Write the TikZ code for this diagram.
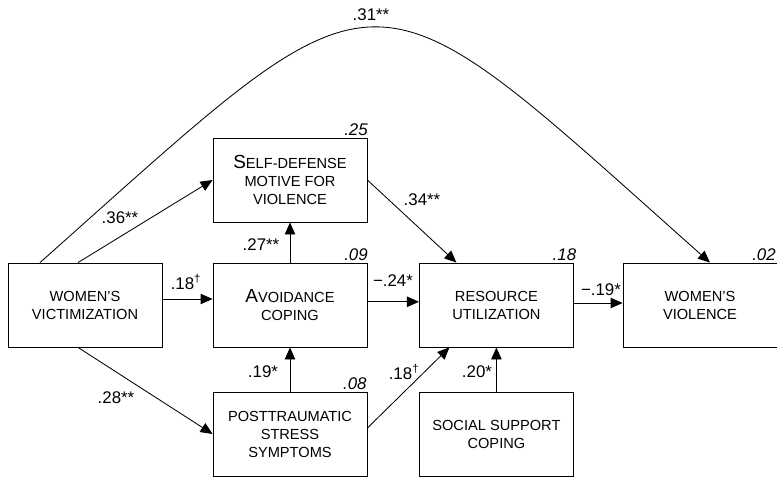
\documentclass[tikz,border=0pt]{standalone}
\usepackage{fontspec}
\setmainfont{Liberation Sans}
\usetikzlibrary{arrows.meta, positioning, calc}
\newcommand{\initcap}[1]{{\fontsize{13.5}{13.5}\selectfont #1}}

\begin{document}
\begin{tikzpicture}[
  var/.style={draw, line width=0.6pt, minimum width=3.85cm, minimum height=2.1cm, align=center, inner sep=2pt, font=\fontsize{10.4}{12.8}\selectfont},
  arrow/.style={-{Triangle[length=3mm, width=2.6mm]}, line width=0.6pt},
  coef/.style={font=\fontsize{12}{14}\selectfont, inner sep=1pt},
  rsq/.style={font=\fontsize{12}{14}\selectfont\itshape, inner sep=1pt, anchor=south east}
]
  \useasboundingbox (0,0) rectangle (19.425,-11.95);

  % Variabili
  \node[var] (vict) at (2.125, -7.625) {WOMEN’S\\ VICTIMIZATION};
  \node[var] (selfdef) at (7.25, -4.5) {\initcap{S}ELF-DEFENSE\\ MOTIVE FOR\\ VIOLENCE};
  \node[var] (avoid) at (7.25, -7.625) {\initcap{A}VOIDANCE\\ COPING};
  \node[var] (ptsd) at (7.25, -10.85) {POSTTRAUMATIC\\ STRESS\\ SYMPTOMS};
  \node[var] (resource) at (12.41, -7.625) {RESOURCE\\ UTILIZATION};
  \node[var] (social) at (12.41, -10.85) {SOCIAL SUPPORT\\ COPING};
  \node[var] (wviol) at (17.5, -7.625) {WOMEN’S\\ VIOLENCE};

  % Varianza spiegata
  \node[rsq] (r2self) at ([xshift=0.05cm]selfdef.north east) {.25};
  \node[rsq] (r2avoid) at ([xshift=0.05cm]avoid.north east) {.09};
  \node[rsq] (r2ptsd) at ([xshift=0.02cm]ptsd.north east) {.08};
  \node[rsq] (r2res) at ([xshift=0.1cm]resource.north east) {.18};
  \node[rsq] (r2viol) at ([xshift=0.0cm]wviol.north east) {.02};

  % Percorsi
  \draw[arrow] ([xshift=-1.125cm]vict.north) .. controls +(8.8,7.825) and +(-8.8,7.825) .. ([xshift=0.25cm]wviol.north);
  \draw[arrow] ([xshift=-0.175cm]vict.north) -- (selfdef.west);
  \draw[arrow] ([xshift=-0.175cm]vict.south) -- (ptsd.west);
  \draw[arrow] ([yshift=0.15cm]vict.east) -- ([yshift=0.15cm]avoid.west);
  \draw[arrow] (avoid.north) -- (selfdef.south);
  \draw[arrow] (ptsd.north) -- (avoid.south);
  \draw[arrow] ([yshift=0.08cm]avoid.east) -- ([yshift=0.08cm]resource.west);
  \draw[arrow] (selfdef.east) -- ([xshift=-1.0cm]resource.north);
  \draw[arrow] ([yshift=0.15cm]ptsd.east) -- ([xshift=-1.175cm]resource.south);
  \draw[arrow] (social.north) -- (resource.south);
  \draw[arrow] ([yshift=0.05cm]resource.east) -- ([yshift=0.05cm]wviol.west);

  % Coefficienti
  \node[coef] (c31) at (9.275, -0.375) {.31**};
  \node[coef] (c36) at (3.0, -5.45) {.36**};
  \node[coef] (c18a) at (4.65, -7.05) {.18\textsuperscript{\textdagger}};
  \node[coef] (c28) at (2.9, -9.95) {.28**};
  \node[coef] (c27) at (6.525, -6.125) {.27**};
  \node[coef] (c19a) at (6.575, -9.3) {.19*};
  \node[coef] (c24) at (9.825, -7.025) {−.24*};
  \node[coef] (c34) at (10.55, -5.0) {.34**};
  \node[coef] (c18b) at (10.1, -9.3) {.18\textsuperscript{\textdagger}};
  \node[coef] (c20) at (11.925, -9.3) {.20*};
  \node[coef] (c19b) at (15.025, -7.25) {−.19*};

\end{tikzpicture}
\end{document}
